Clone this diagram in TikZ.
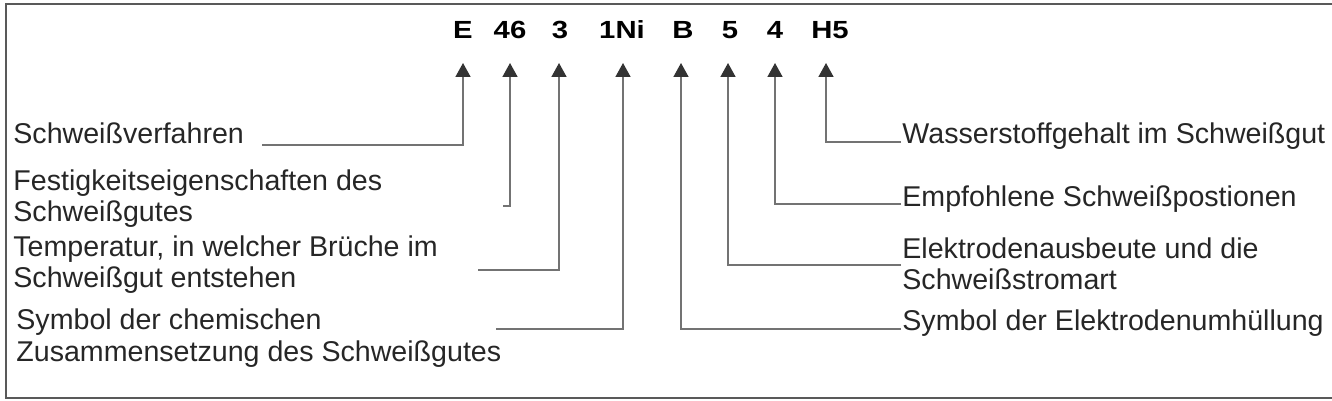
\documentclass[tikz,border=0pt]{standalone}
\usepackage{fontspec}
\setmainfont{Liberation Sans}
\newfontfamily\codefont[FakeStretch=1.18]{Liberation Sans}
\usetikzlibrary{arrows.meta}
\newcommand{\twolines}[2]{\vtop{\hbox{#1}\hbox{#2}}}
\begin{document}
\begin{tikzpicture}[x=0.5pt,y=-0.5pt,
  frame/.style={line width=1pt,draw=black!65},
  conn/.style={line width=0.8pt,draw=black!55,
    -{Triangle[length=7pt,width=7.5pt,color=black!80]}},
  code/.style={anchor=base,inner sep=0pt,font=\codefont\bfseries\fontsize{12.4}{14}\selectfont,text=black},
  desc/.style={anchor=base west,inner sep=0pt,font=\fontsize{14.3}{15.8}\selectfont,text=black!85}]
\useasboundingbox (0,0) rectangle (1332,401);
\draw[frame] (1332,4) -- (6,4) -- (6,398) -- (1332,398);
% code labels
\node[code] (cE)  at (463,38.5) {E};
\node[code] (c46) at (510,38.5) {46};
\node[code] (c3)  at (560,38.5) {3};
\node[code] (cNi) at (622,38.5) {1Ni};
\node[code] (cB)  at (683,38.5) {B};
\node[code] (c5)  at (730,38.5) {5};
\node[code] (c4)  at (775,38.5) {4};
\node[code] (cH)  at (830,38.5) {H5};
% arrow tips
\coordinate (tE)  at (463,63);
\coordinate (t46) at (510,63);
\coordinate (t3)  at (559,63);
\coordinate (tNi) at (623,63);
\coordinate (tB)  at (681,63);
\coordinate (t5)  at (728,63);
\coordinate (t4)  at (775,63);
\coordinate (tH)  at (826,63);
% descriptions left
\node[desc] (dE)  at (13,143) {Schweißverfahren};
\node[desc] (d46) at (13,190) {\twolines{Festigkeitseigenschaften des}{Schweißgutes}};
\node[desc] (d3)  at (13,256) {\twolines{Temperatur, in welcher Brüche im}{Schweißgut entstehen}};
\node[desc] (dNi) at (16,329.5) {\twolines{Symbol der chemischen}{Zusammensetzung des Schweißgutes}};
% descriptions right
\node[desc] (dH)  at (902,143.3) {Wasserstoffgehalt im Schweißgut};
\node[desc] (d4)  at (902,206.7) {Empfohlene Schweißpostionen};
\node[desc] (d5)  at (902,258.3) {\twolines{Elektrodenausbeute und die}{Schweißstromart}};
\node[desc] (dB)  at (902,330) {Symbol der Elektrodenumhüllung};
% connector starts
\coordinate (sE)  at (262,145);
\coordinate (s46) at (503,206);
\coordinate (s3)  at (478,270);
\coordinate (sNi) at (496,329);
\coordinate (sH)  at (901,142);
\coordinate (s4)  at (901,204);
\coordinate (s5)  at (901,265);
\coordinate (sB)  at (901,329);
% connectors
\draw[conn] (sE)  -| (tE);
\draw[conn] (s46) -| (t46);
\draw[conn] (s3)  -| (t3);
\draw[conn] (sNi) -| (tNi);
\draw[conn] (sH)  -| (tH);
\draw[conn] (s4)  -| (t4);
\draw[conn] (s5)  -| (t5);
\draw[conn] (sB)  -| (tB);
\end{tikzpicture}
\end{document}
